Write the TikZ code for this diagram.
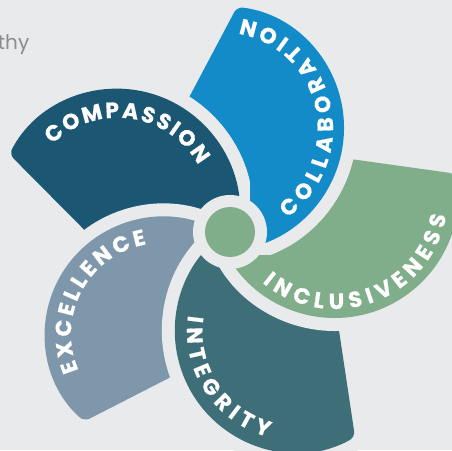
\documentclass[tikz,border=0pt]{standalone}
\usepackage{fontspec}
\newfontfamily\popfam{Poppins}
\newfontfamily\petalfam{Poppins}[FakeBold=0.6]
\newcommand\petalfont{\petalfam\bfseries\fontsize{22}{22}\selectfont}
\newcommand\thyfont{\popfam\fontsize{20}{20}\selectfont}
\definecolor{bgc}{HTML}{E9EAEC}
\definecolor{thygray}{HTML}{8C8C8C}
\definecolor{colcompassion}{HTML}{1B5672}
\definecolor{colcollab}{HTML}{138BC9}
\definecolor{colincl}{HTML}{80AE8B}
\definecolor{colinteg}{HTML}{3E6E78}
\definecolor{colexcel}{HTML}{7F97AA}
\definecolor{coldisc}{HTML}{80AE8B}
\newlength\chw
\newcommand\storewidth[1]{\settowidth\chw{\petalfont #1}\expandafter\xdef\csname lw@#1\endcsname{\the\chw}}
\AtBeginDocument{%
  \storewidth{A}\storewidth{B}\storewidth{C}\storewidth{E}\storewidth{G}\storewidth{I}%
  \storewidth{L}\storewidth{M}\storewidth{N}\storewidth{O}\storewidth{P}\storewidth{R}%
  \storewidth{S}\storewidth{T}\storewidth{U}\storewidth{V}\storewidth{X}\storewidth{Y}}
\newcommand\letterwidth[1]{\chw=\csname lw@#1\endcsname\relax}
% #1 name, #2 cx, #3 cy, #4 baseline radius, #5 start angle, #6 end angle, #7 letters
\newcommand\arctext[7]{%
  \xdef\arcW{0}\xdef\arcN{0}%
  \foreach \ch in {#7}{%
    \letterwidth{\ch}%
    \pgfmathsetmacro\tmpW{\arcW+\chw}\xdef\arcW{\tmpW}%
    \pgfmathtruncatemacro\tmpN{\arcN+1}\xdef\arcN{\tmpN}}%
  \pgfmathsetmacro\arcSgn{sign((#6)-(#5))}%
  \pgfmathsetmacro\arcL{abs((#6)-(#5))*pi/180*(#4)}%
  \pgfmathsetmacro\arcGap{(\arcL-\arcW)/(\arcN-1)}%
  \xdef\arcCum{0}%
  \foreach \ch [count=\i] in {#7}{%
    \letterwidth{\ch}%
    \pgfmathsetmacro\ang{(#5)+\arcSgn*(\arcCum+\chw/2)/(#4)*180/pi}%
    \pgfmathsetmacro\rot{\ang+\arcSgn*90}%
    \node[petalletter,rotate=\rot] (#1-\i) at ({(#2)+(#4)*cos(\ang)},{(#3)+(#4)*sin(\ang)}) {\ch};
    \pgfmathsetmacro\tmpC{\arcCum+\chw+\arcGap}\xdef\arcCum{\tmpC}}%
}
\tikzset{
  petalletter/.style={font=\petalfont, text=white, inner sep=0pt, anchor=base},
  halo/.style={preaction={draw=bgc, line width=26pt, line join=round}},
  petal/.style={halo, rounded corners=6pt},
}
\begin{document}
\begin{tikzpicture}[x=1pt,y=1pt]
\useasboundingbox (0,0) rectangle (452,450);
\fill[bgc] (0,0) rectangle (452,450);
\node[font=\thyfont, text=thygray, anchor=base east, inner sep=0pt] (thy) at (29.5,400) {thy};

% key points
\coordinate (O) at (230,218);
\coordinate (colP) at (237,443.1);   \coordinate (colX) at (178.5,332.6);
\coordinate (comP) at (9.3,295.8); \coordinate (comX) at (92.4,212);
\coordinate (excP) at (84.2,28.6); \coordinate (excX) at (180.3,77.8);
\coordinate (intP) at (355,12.9);  \coordinate (intX) at (337.2,131.6);
\coordinate (incP) at (454.9,276.4); \coordinate (incX) at (338.1,292.7);

% petals
\path[petal, fill=colcollab] (colX) -- (colP) arc[start angle=82.94, end angle=-85.6, radius=122pt] -- cycle;
\path[petal, fill=colcompassion] (comX) -- (comP) arc[start angle=152.36, end angle=-10.66, radius=122pt] -- cycle;
\path[petal, fill=colexcel] (excX) -- (excP) arc[start angle=228.32, end angle=56.31, radius=117pt] -- cycle;
\path[petal, fill=colinteg] (intX) -- (intP) arc[start angle=-60.81, end angle=-236.44, radius=121pt] -- cycle;
\path[petal, fill=colincl] (incX) -- (incP) arc[start angle=10.58, end angle=-161.08, radius=122pt] -- cycle;
\begin{scope}
  \clip (250,195) rectangle (460,460);
  \path[petal, fill=colcollab] (colX) -- (colP) arc[start angle=82.94, end angle=-85.6, radius=122pt] -- cycle;
\end{scope}

% centre
\fill[bgc] (O) circle[radius=37pt];
\node[circle, fill=coldisc, minimum size=50pt, inner sep=0pt] (hub) at (O) {};

% labels
\arctext{tcom}{117.4}{239.2}{93}{134.5}{29.5}{C,O,M,P,A,S,S,I,O,N}
\arctext{tcol}{222}{322}{111}{-54}{79.5}{C,O,L,L,A,B,O,R,A,T,I,O,N}
\arctext{tinc}{335}{254}{113}{-130}{-10}{I,N,C,L,U,S,I,V,E,N,E,S,S}
\arctext{tint}{296}{118.5}{109}{171.5}{255}{I,N,T,E,G,R,I,T,Y}
\arctext{texc}{162}{116}{91}{203.5}{99.8}{E,X,C,E,L,L,E,N,C,E}
\end{tikzpicture}
\end{document}
